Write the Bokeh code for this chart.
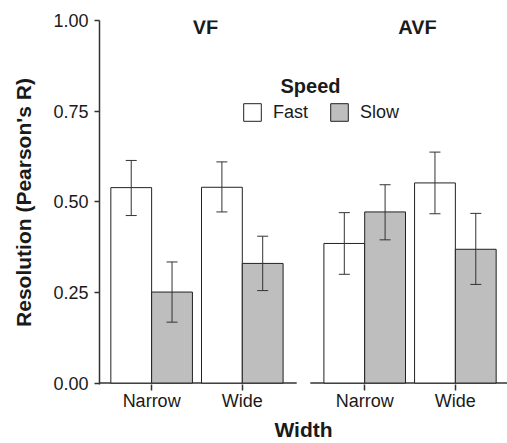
from bokeh.plotting import figure
from bokeh.models import (FactorRange, Range1d, FixedTicker, NumeralTickFormatter, Legend,
                          LegendItem, Whisker, TeeHead, ColumnDataSource, Label)
from bokeh.transform import dodge
from bokeh.embed import file_html
from bokeh.resources import INLINE

# ---- data ----
modes = ["VF", "AVF"]
widths = ["Narrow", "Wide"]
speeds = ["Fast", "Slow"]
fast_mean = [0.539, 0.540, 0.385, 0.552]
fast_lower = [0.462, 0.472, 0.300, 0.467]
fast_upper = [0.614, 0.610, 0.470, 0.637]
slow_mean = [0.251, 0.330, 0.472, 0.369]
slow_lower = [0.168, 0.255, 0.395, 0.272]
slow_upper = [0.334, 0.405, 0.547, 0.468]
y_ticks = [0, 0.25, 0.5, 0.75, 1.0]
y_label = "Resolution (Pearson's R)"
x_label = "Width"
legend_title = "Speed"

# ---- style ----
FONT = "Liberation Sans"
LINE = "#333333"
TEXT = "#1a1a1a"
SLOW_FILL = "#bebebe"
bar_w = 0.45
expand = 0.6

factors = [(m, w) for m in modes for w in widths]

x_range = FactorRange(factors=factors, factor_padding=0.0, group_padding=0.35,
                      range_padding=0.075, range_padding_units="absolute")
p = figure(x_range=x_range, y_range=Range1d(-0.004, 1.0), width=507, height=443,
           output_backend="svg", toolbar_location=None,
           min_border_left=99, min_border_right=0, min_border_top=20, min_border_bottom=59)
p.outline_line_color = None
p.xgrid.grid_line_color = None
p.ygrid.grid_line_color = None
p.background_fill_color = "white"
p.border_fill_color = "white"

src = ColumnDataSource(dict(x=factors, fast=fast_mean, fast_lo=fast_lower, fast_hi=fast_upper,
                            slow=slow_mean, slow_lo=slow_lower, slow_hi=slow_upper))

# panel baselines
base = ColumnDataSource(dict(x0=[(m, widths[0], -expand) for m in modes],
                             x1=[(m, widths[-1], expand) for m in modes],
                             y=[0, 0]))
p.segment(x0="x0", x1="x1", y0="y", y1="y", source=base, line_color=LINE, line_width=1.5)

rf = p.vbar(x=dodge("x", -bar_w / 2, range=p.x_range), top="fast", width=bar_w, source=src,
            fill_color="white", line_color="#222222", line_width=1)
rs = p.vbar(x=dodge("x", bar_w / 2, range=p.x_range), top="slow", width=bar_w, source=src,
            fill_color=SLOW_FILL, line_color="#222222", line_width=1)

for off, lo, hi in [(-bar_w / 2, "fast_lo", "fast_hi"), (bar_w / 2, "slow_lo", "slow_hi")]:
    w = Whisker(base=dodge("x", off, range=p.x_range), lower=lo, upper=hi, source=src,
                line_color=LINE, line_width=1,
                upper_head=TeeHead(size=11, line_color=LINE, line_width=1),
                lower_head=TeeHead(size=11, line_color=LINE, line_width=1))
    w.level = "overlay"
    p.add_layout(w)

# panel titles (strip text)
for t, sx in zip(modes, [106, 318]):
    p.add_layout(Label(x=sx, y=358, x_units="screen", y_units="screen", text=t,
                       text_align="center", text_baseline="alphabetic", text_font=FONT,
                       text_font_size="20px", text_font_style="bold", text_color=TEXT))

# axes
ya = p.yaxis[0]
ya.ticker = FixedTicker(ticks=y_ticks)
ya.formatter = NumeralTickFormatter(format="0.00")
ya.minor_tick_line_color = None
ya.major_tick_in = 0
ya.major_tick_out = 5
ya.major_tick_line_color = LINE
ya.major_tick_line_width = 1.5
ya.axis_line_color = LINE
ya.axis_line_width = 1.5
ya.major_label_standoff = 6
ya.major_label_text_font = FONT
ya.major_label_text_font_size = "18px"
ya.major_label_text_color = TEXT
ya.axis_label = y_label
ya.axis_label_text_font = FONT
ya.axis_label_text_font_size = "21px"
ya.axis_label_text_font_style = "bold"
ya.axis_label_text_color = TEXT
ya.axis_label_standoff = 15

xa = p.xaxis[0]
xa.axis_line_color = None
xa.major_tick_in = 0
xa.major_tick_out = 6
xa.major_tick_line_color = LINE
xa.major_tick_line_width = 1.5
xa.major_label_standoff = 0
xa.major_label_text_font = FONT
xa.major_label_text_font_size = "18px"
xa.major_label_text_color = TEXT
xa.group_text_font_size = "0px"
xa.group_text_alpha = 0
xa.separator_line_color = None
xa.axis_label = x_label
xa.axis_label_text_font = FONT
xa.axis_label_text_font_size = "21px"
xa.axis_label_text_font_style = "bold"
xa.axis_label_text_color = TEXT
xa.axis_label_standoff = 4

# legend
legend = Legend(items=[LegendItem(label=speeds[0], renderers=[rf]),
                       LegendItem(label=speeds[1], renderers=[rs])],
                orientation="horizontal", location=(142, 261),
                glyph_width=22, glyph_height=22, label_standoff=10, spacing=20,
                padding=0, margin=0, border_line_color=None, background_fill_alpha=0,
                label_text_font=FONT, label_text_font_size="18px", label_text_color=TEXT)
p.add_layout(legend)
p.add_layout(Label(x=211, y=299, x_units="screen", y_units="screen", text=legend_title,
                   text_align="center", text_baseline="alphabetic", text_font=FONT,
                   text_font_size="20px", text_font_style="bold", text_color=TEXT))

open("out.html", "w").write(file_html(p, INLINE))
